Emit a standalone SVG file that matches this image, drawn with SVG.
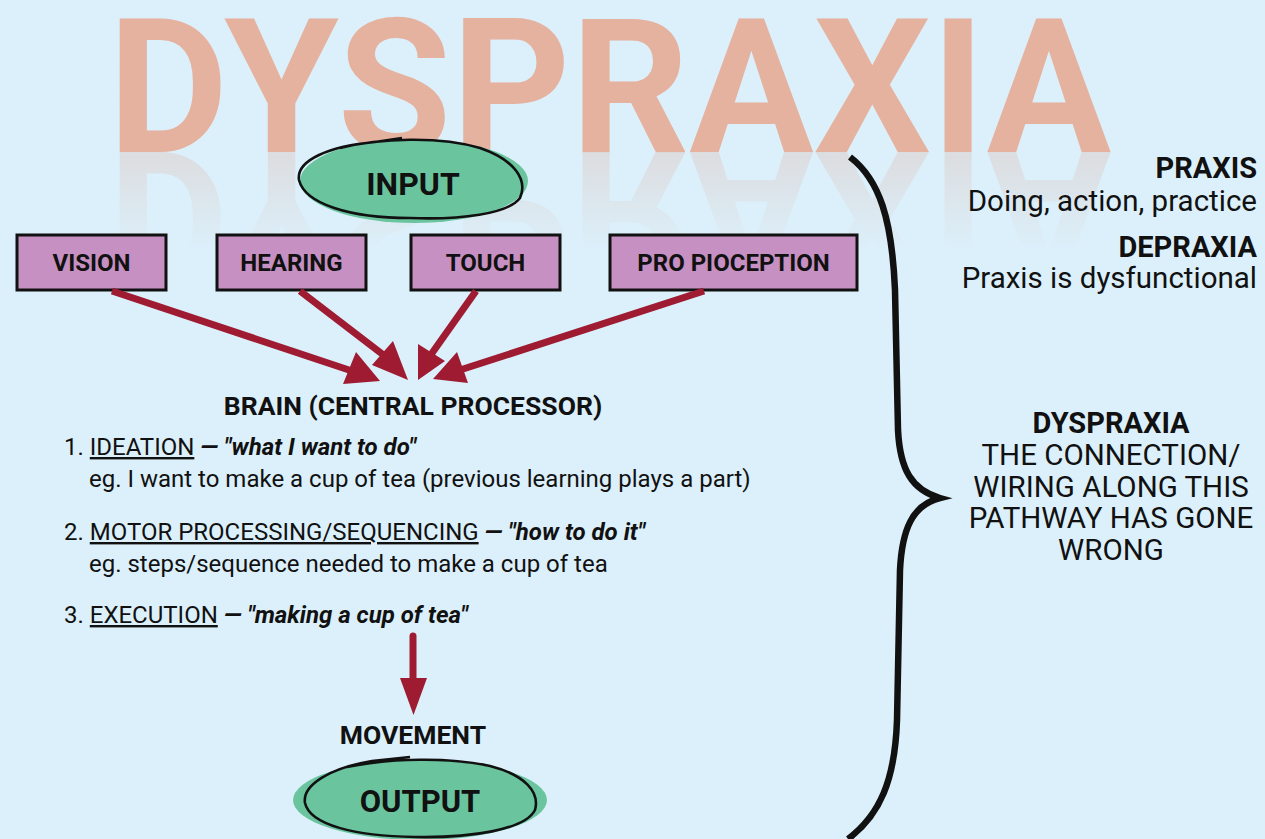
<svg xmlns="http://www.w3.org/2000/svg" width="1265" height="839" viewBox="0 0 1265 839">
<defs>
<style>
.t{font-family:Roboto,"Liberation Sans",sans-serif;fill:#111}
.b{font-weight:bold}
.box{fill:#c690c3;stroke:#111;stroke-width:3}
.bt{font-family:Roboto,"Liberation Sans",sans-serif;font-weight:bold;font-size:24px;fill:#111;text-anchor:middle}
.arr{stroke:#9e1b32;stroke-width:7;fill:none}
.ah{fill:#9e1b32}
.ell{fill:#6ac59f}
.rough{fill:none;stroke:#111;stroke-width:2.6}
.li{font-size:24px}
.rr{font-size:29.5px}
.rb{font-size:29px;font-weight:bold}
.ttl{font-family:Roboto,"Liberation Sans",sans-serif;font-weight:bold;font-size:187px}
</style>
<linearGradient id="rg" gradientUnits="userSpaceOnUse" x1="0" y1="152" x2="0" y2="250">
<stop offset="0" stop-color="#fff" stop-opacity="0.85"/>
<stop offset="1" stop-color="#fff" stop-opacity="0"/>
</linearGradient>
<mask id="rm" maskUnits="userSpaceOnUse" x="0" y="152" width="1265" height="160">
<rect x="0" y="152" width="1265" height="160" fill="url(#rg)"/>
</mask>
</defs>
<rect width="1265" height="839" fill="#dcf0fb"/>

<g id="title">
<text class="ttl" x="108" y="152" textLength="1003" lengthAdjust="spacingAndGlyphs" fill="#e6b2a0">DYSPRAXIA</text>
<g mask="url(#rm)">
<text class="ttl" x="108" y="152" textLength="1003" lengthAdjust="spacingAndGlyphs" transform="translate(0,304) scale(1,-1)" fill="#dcd9da">DYSPRAXIA</text>
</g>
</g>

<g id="input">
<ellipse class="ell" cx="414" cy="181" rx="114" ry="42"/>
<path class="rough" d="M340,148 C380,138 440,136 480,148 C515,160 528,180 520,198 C508,214 460,220 410,218 C350,218 305,204 299,180 C296,160 330,146 375,142 L402,138"/>
<text class="t b" x="413" y="195" font-size="32" text-anchor="middle">INPUT</text>
</g>

<g id="vision"><rect class="box" x="17" y="235" width="149" height="55"/><text class="bt" x="91.5" y="271">VISION</text></g>
<g id="hearing"><rect class="box" x="217" y="235" width="149" height="55"/><text class="bt" x="291.5" y="271">HEARING</text></g>
<g id="touch"><rect class="box" x="411" y="235" width="149" height="55"/><text class="bt" x="485.5" y="271">TOUCH</text></g>
<g id="proprioception"><rect class="box" x="610" y="235" width="247" height="55"/><text class="bt" x="733.5" y="271">PRO PIOCEPTION</text></g>

<g id="connectors">
<line class="arr" x1="112" y1="291" x2="355" y2="372"/>
<polygon class="ah" points="380,381 343,384 356,352"/>
<line class="arr" x1="300" y1="291" x2="390" y2="360"/>
<polygon class="ah" points="408,380 372,365 393,341"/>
<line class="arr" x1="476" y1="291" x2="430" y2="356"/>
<polygon class="ah" points="418,380 418,344 445,361"/>
<line class="arr" x1="704" y1="291" x2="460" y2="370"/>
<polygon class="ah" points="433,379 457,352 468,383"/>
<line class="arr" x1="413" y1="636" x2="413" y2="685" stroke-linecap="round"/>
<polygon class="ah" points="400,678 427,678 413.5,715"/>
<path d="M850,157 C880,180 892,220 895,290 L898,430 C900,470 912,490 940,498 C912,505 902,530 900,570 L897,720 C895,780 880,815 848,839" fill="none" stroke="#111" stroke-width="6.5"/>
</g>

<g id="brain">
<text class="t b" x="413" y="415" font-size="26.5" text-anchor="middle">BRAIN (CENTRAL PROCESSOR)</text>
<text class="t li" x="64" y="455">1. <tspan text-decoration="underline">IDEATION</tspan> <tspan font-weight="bold" font-style="italic">— "what I want to do"</tspan></text>
<text class="t li" x="89" y="487">eg. I want to make a cup of tea (previous learning plays a part)</text>
<text class="t li" x="64" y="540">2. <tspan text-decoration="underline">MOTOR PROCESSING/SEQUENCING</tspan> <tspan font-weight="bold" font-style="italic">— "how to do it"</tspan></text>
<text class="t li" x="89" y="572">eg. steps/sequence needed to make a cup of tea</text>
<text class="t li" x="64" y="623">3. <tspan text-decoration="underline">EXECUTION</tspan> <tspan font-weight="bold" font-style="italic">— "making a cup of tea"</tspan></text>
</g>

<g id="movement">
<text class="t b" x="413" y="744" font-size="26.5" text-anchor="middle">MOVEMENT</text>
</g>

<g id="output">
<ellipse class="ell" cx="420" cy="800" rx="127" ry="40"/>
<path class="rough" d="M347,767 C390,758 450,757 490,766 C525,775 540,792 535,810 C525,830 470,838 415,837 C355,836 310,825 305,803 C302,785 330,768 372,761 L410,757"/>
<text class="t b" x="420" y="812" font-size="31" text-anchor="middle">OUTPUT</text>
</g>

<g id="definitions">
<text class="t rb" x="1257" y="178" text-anchor="end">PRAXIS</text>
<text class="t rr" x="1257" y="211" text-anchor="end">Doing, action, practice</text>
<text class="t rb" x="1257" y="257" text-anchor="end">DEPRAXIA</text>
<text class="t rr" x="1257" y="288" text-anchor="end">Praxis is dysfunctional</text>
</g>

<g id="dyspraxia">
<text class="t rb" x="1111" y="433" text-anchor="middle">DYSPRAXIA</text>
<text class="t rr" x="1111" y="465" text-anchor="middle">THE CONNECTION/</text>
<text class="t rr" x="1111" y="497" text-anchor="middle">WIRING ALONG THIS</text>
<text class="t rr" x="1111" y="528" text-anchor="middle">PATHWAY HAS GONE</text>
<text class="t rr" x="1111" y="560" text-anchor="middle">WRONG</text>
</g>
</svg>
